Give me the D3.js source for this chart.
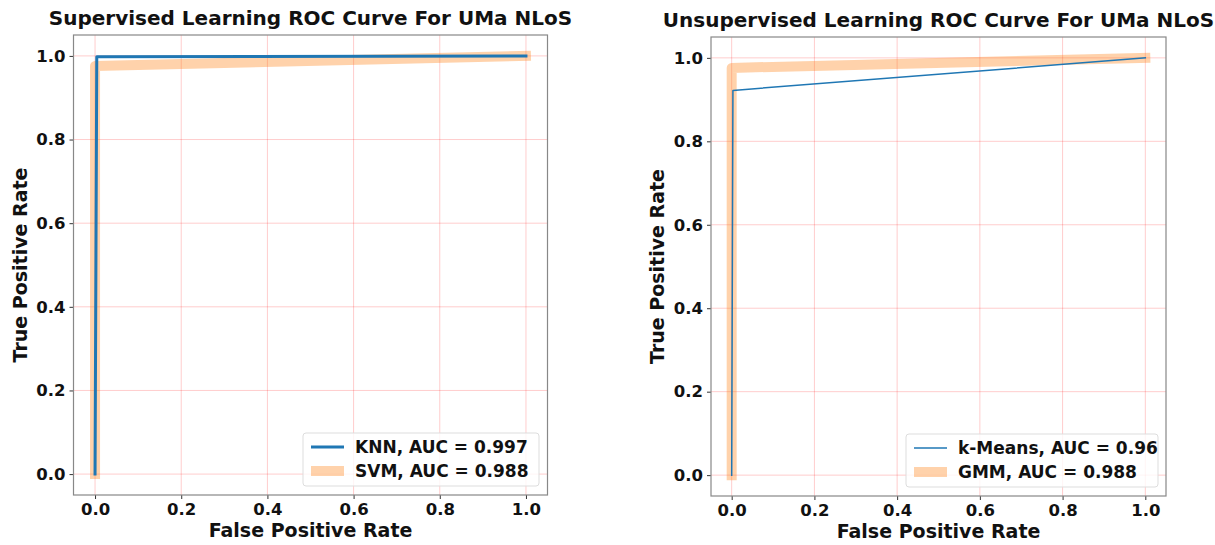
<!DOCTYPE html>
<html>
<head>
<meta charset="utf-8">
<script src="https://cdn.jsdelivr.net/npm/d3@7"></script>
<style>
  body { margin: 0; background: #fff; }
  text { font-family: "DejaVu Sans", sans-serif; font-weight: bold; }
</style>
</head>
<body>
<div id="chart"></div>
<script>
// tick labels shared by both axes
var tickValues = [0, 0.2, 0.4, 0.6, 0.8, 1.0];

// supervised curves
var knnFpr = [0, 0.004, 1];
var knnTpr = [0, 0.998, 1];
var svmFpr = [0, 0, 1];
var svmTpr = [0, 0.976, 1];

// unsupervised curves
var kmeansFpr = [0, 0.003, 1];
var kmeansTpr = [0, 0.922, 1];
var gmmFpr = [0, 0, 1];
var gmmTpr = [0, 0.976, 1];

var panels = [
  { title: "Supervised Learning ROC Curve For UMa NLoS",
    box: [73.5, 35, 547.5, 495],
    series: [
      { name: "SVM, AUC = 0.988", fpr: svmFpr, tpr: svmTpr, color: "#ff7f0e", width: 10, opacity: 0.35 },
      { name: "KNN, AUC = 0.997", fpr: knnFpr, tpr: knnTpr, color: "#1f77b4", width: 3, opacity: 1 }
    ],
    legend: [303, 433, 539, 486] },
  { title: "Unsupervised Learning ROC Curve For UMa NLoS",
    box: [711, 37, 1166, 496],
    series: [
      { name: "GMM, AUC = 0.988", fpr: gmmFpr, tpr: gmmTpr, color: "#ff7f0e", width: 10, opacity: 0.35 },
      { name: "k-Means, AUC = 0.96", fpr: kmeansFpr, tpr: kmeansTpr, color: "#1f77b4", width: 1.5, opacity: 1 }
    ],
    legend: [906, 434, 1158, 487] }
];

var svg = d3.select("#chart")
  .append("svg")
  .attr("width", 1215)
  .attr("height", 545);

panels.forEach(function(p) {
  var x0 = p.box[0], y0 = p.box[1], x1 = p.box[2], y1 = p.box[3];

  var x = d3.scaleLinear().domain([-0.05, 1.05]).range([x0, x1]);
  var y = d3.scaleLinear().domain([-0.05, 1.05]).range([y1, y0]);

  var g = svg.append("g");

  /* grid */
  g.selectAll(".vgrid")
    .data(tickValues)
    .enter().append("line")
    .attr("x1", x).attr("x2", x)
    .attr("y1", y0).attr("y2", y1)
    .style("stroke", "rgba(255,0,0,0.2)")
    .style("stroke-width", 1);

  g.selectAll(".hgrid")
    .data(tickValues)
    .enter().append("line")
    .attr("y1", y).attr("y2", y)
    .attr("x1", x0).attr("x2", x1)
    .style("stroke", "rgba(255,0,0,0.2)")
    .style("stroke-width", 1);

  /* curves */
  var line = d3.line()
    .x(function(d) { return x(d[0]); })
    .y(function(d) { return y(d[1]); });

  p.series.forEach(function(s) {
    var pts = s.fpr.map(function(f, i) { return [f, s.tpr[i]]; });
    g.append("path")
      .datum(pts)
      .attr("d", line)
      .style("fill", "none")
      .style("stroke", s.color)
      .style("stroke-opacity", s.opacity)
      .style("stroke-width", s.width)
      .style("stroke-linecap", "square")
      .style("stroke-linejoin", "round");
  });

  /* axes */
  var xAxis = d3.axisBottom(x).tickValues(tickValues).tickFormat(d3.format(".1f")).tickSize(4).tickPadding(4);
  var yAxis = d3.axisLeft(y).tickValues(tickValues).tickFormat(d3.format(".1f")).tickSize(4).tickPadding(4);

  var gx = g.append("g").attr("transform", "translate(0," + y1 + ")").call(xAxis);
  var gy = g.append("g").attr("transform", "translate(" + x0 + ",0)").call(yAxis);
  [gx, gy].forEach(function(a) {
    a.select(".domain").remove();
    a.selectAll("line").style("stroke", "#333");
    a.selectAll("text").style("font-size", "16.5px").style("font-family", "DejaVu Sans").style("font-weight", "bold").style("fill", "#111");
  });

  /* frame */
  g.append("rect")
    .attr("x", x0).attr("y", y0)
    .attr("width", x1 - x0).attr("height", y1 - y0)
    .style("fill", "none")
    .style("stroke", "#888")
    .style("stroke-width", 1.2);

  /* title and labels */
  g.append("text")
    .attr("x", (x0 + x1) / 2)
    .attr("y", y0 - 10)
    .attr("text-anchor", "middle")
    .style("font-size", "20px")
    .style("fill", "#111")
    .text(p.title);

  g.append("text")
    .attr("x", (x0 + x1) / 2)
    .attr("y", y1 + 42)
    .attr("text-anchor", "middle")
    .style("font-size", "19px")
    .style("fill", "#111")
    .text("False Positive Rate");

  g.append("text")
    .attr("transform", "translate(" + (x0 - 47) + "," + ((y0 + y1) / 2) + ") rotate(-90)")
    .attr("text-anchor", "middle")
    .style("font-size", "19px")
    .style("fill", "#111")
    .text("True Positive Rate");

  /* legend */
  var lb = p.legend;
  g.append("rect")
    .attr("x", lb[0]).attr("y", lb[1])
    .attr("width", lb[2] - lb[0]).attr("height", lb[3] - lb[1])
    .attr("rx", 3)
    .style("fill", "rgba(255,255,255,0.8)")
    .style("stroke", "#ddd");

  var legendOrder = [p.series[1], p.series[0]];
  legendOrder.forEach(function(s, i) {
    var ly = lb[1] + 14 + i * 24;
    g.append("line")
      .attr("x1", lb[0] + 8).attr("x2", lb[0] + 41)
      .attr("y1", ly).attr("y2", ly)
      .style("stroke", s.color)
      .style("stroke-opacity", s.opacity)
      .style("stroke-width", s.width);
    g.append("text")
      .attr("x", lb[0] + 52)
      .attr("y", ly + 6)
      .style("font-size", "17px")
      .style("fill", "#111")
      .text(s.name);
  });
});
</script>
</body>
</html>
